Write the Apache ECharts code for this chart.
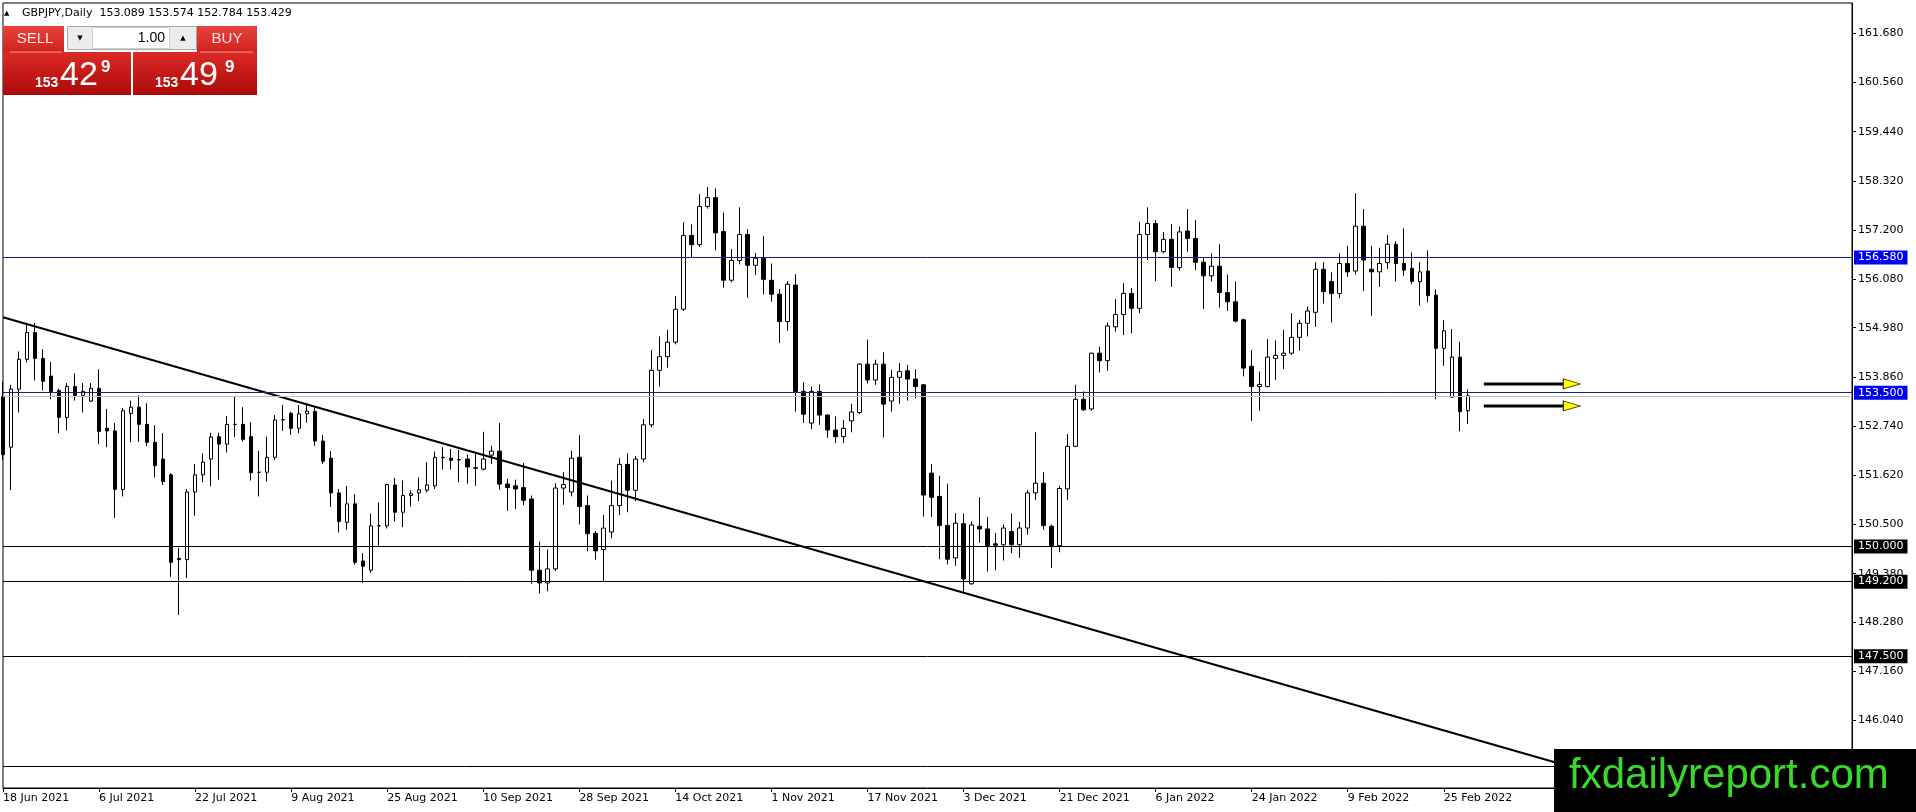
<!DOCTYPE html>
<html><head><meta charset="utf-8">
<script src="https://cdn.jsdelivr.net/npm/echarts@6/dist/echarts.min.js"></script>
<style>html,body{margin:0;padding:0;background:#fff;}#chart{width:1916px;height:812px;}</style>
</head><body><div id="chart"></div>
<script>
const symbolName = 'GBPJPY,Daily';
const dateTicks = ['18 Jun 2021','6 Jul 2021','22 Jul 2021','9 Aug 2021','25 Aug 2021','10 Sep 2021','28 Sep 2021','14 Oct 2021','1 Nov 2021','17 Nov 2021','3 Dec 2021','21 Dec 2021','6 Jan 2022','24 Jan 2022','9 Feb 2022','25 Feb 2022'];
const barsPerTick = 12;
const slotCount = 232;
const priceTicks = [161.68,160.56,159.44,158.32,157.2,156.08,154.98,153.86,152.74,151.62,150.5,149.38,148.28,147.16,146.04,144.92];
const yMin = 144.503, yMax = 162.370;

const open = [
153.41,152.26,153.58,154.26,154.87,154.28,153.88,153.55,152.94,153.64,153.44,153.31,
153.60,152.69,152.63,151.30,153.03,153.17,152.78,152.37,151.99,151.63,149.73,149.70,
151.24,151.63,151.99,152.50,152.33,152.78,152.78,152.50,151.69,151.69,152.03,152.88,
153.03,152.69,153.02,153.07,152.40,152.01,151.22,150.55,150.97,149.67,149.46,150.47,
150.47,151.40,150.78,151.16,151.22,151.28,151.38,152.03,152.01,151.98,151.99,151.79,
151.76,152.08,152.17,151.42,151.38,151.34,151.08,149.46,149.17,149.49,151.33,151.24,
152.03,150.93,150.30,149.93,150.33,150.93,151.87,151.28,151.99,152.77,154.01,154.32,
154.65,155.40,157.08,156.87,157.74,157.94,157.17,156.06,156.51,157.10,156.40,156.56,
156.06,155.74,155.12,155.95,153.53,152.81,153.53,152.99,152.65,152.50,152.86,153.05,
154.15,153.79,154.15,153.31,153.85,154.00,153.81,153.68,151.67,151.14,150.48,149.74,
150.52,149.15,150.46,150.40,150.06,150.04,150.34,150.04,150.42,151.22,151.44,150.46,
150.02,151.31,152.28,153.35,153.13,154.40,154.23,155.00,155.28,155.76,155.42,157.10,
157.35,156.71,156.99,156.35,157.18,157.01,156.47,156.16,156.38,155.78,155.57,155.16,
154.10,153.64,153.64,154.28,154.35,154.40,154.76,155.08,155.33,156.31,156.03,155.76,
156.44,156.27,157.29,156.31,156.25,156.46,156.88,156.44,156.33,156.03,156.27,155.72,
154.51,153.40,154.31,153.089];
const high = [
153.75,153.68,154.44,155.09,155.09,154.49,154.20,153.59,153.72,153.94,153.72,153.72,
154.03,153.13,152.81,153.15,153.32,153.44,153.26,152.76,152.58,151.67,149.97,151.31,
151.88,152.12,152.59,152.59,152.97,153.41,153.17,152.83,152.18,152.50,152.99,153.22,
153.07,153.22,153.26,153.17,152.54,152.17,151.31,151.38,151.19,149.85,150.75,151.00,
151.43,151.56,151.50,151.28,151.57,151.92,152.16,152.26,152.22,152.20,152.09,152.13,
152.61,152.29,152.81,151.54,151.52,151.90,151.16,150.11,149.93,151.44,151.69,152.18,
152.53,151.16,150.35,150.72,151.50,152.01,152.12,152.06,152.90,154.47,154.78,154.93,
155.70,157.38,157.33,158.02,158.18,158.15,157.60,156.77,157.72,157.22,156.68,157.07,
156.44,155.86,156.04,156.20,153.74,153.64,153.69,153.01,152.96,152.88,153.25,154.17,
154.71,154.25,154.42,154.02,154.17,154.13,154.03,153.70,151.88,151.61,151.43,150.76,
150.75,150.57,151.12,150.67,150.31,150.50,150.75,150.56,151.29,152.60,151.69,150.50,
151.38,152.56,153.68,153.53,154.41,154.55,155.10,155.63,155.99,155.88,157.39,157.72,
157.43,157.16,157.34,157.28,157.68,157.43,156.57,156.67,156.88,156.19,156.03,155.19,
154.47,153.98,154.72,154.69,154.93,155.31,155.16,155.46,156.47,156.47,156.24,156.67,
156.84,158.04,157.68,156.84,156.80,157.09,156.95,157.24,156.69,156.47,156.74,155.85,
155.15,154.95,154.66,153.574];
const low = [
151.97,151.28,153.05,154.19,153.78,153.55,153.35,152.58,152.64,153.32,153.05,153.29,
152.33,152.26,150.65,151.14,152.37,152.38,152.29,151.57,151.40,149.31,148.44,149.28,
150.70,151.46,151.37,151.52,152.14,152.49,152.39,151.50,151.14,151.48,151.97,152.63,
152.54,152.58,152.82,152.29,151.88,150.90,150.32,150.38,149.59,149.17,149.40,150.02,
150.41,150.57,150.44,150.91,151.03,151.23,151.31,151.75,151.75,151.46,151.43,151.38,
151.73,151.88,151.29,150.81,150.85,150.94,149.15,148.93,148.98,149.44,150.95,151.14,
150.50,149.89,149.70,149.20,150.19,150.71,150.78,151.03,151.92,152.71,153.64,154.07,
154.60,155.36,156.57,156.82,157.69,156.74,155.89,156.01,156.42,155.66,156.18,155.74,
155.57,154.63,154.91,153.07,152.81,152.67,152.77,152.47,152.35,152.35,152.60,153.01,
153.71,153.68,152.48,153.07,153.25,153.32,153.37,150.68,150.67,149.71,149.59,149.56,
148.96,149.13,150.09,149.43,149.46,149.68,149.85,149.74,150.27,151.06,150.38,149.51,
149.87,151.06,152.26,153.09,153.09,153.96,154.00,154.89,154.81,154.85,155.31,156.52,
156.04,156.67,155.91,156.28,156.71,156.29,155.41,156.03,155.44,155.36,155.10,153.87,
152.86,153.09,153.62,153.79,154.04,154.36,154.46,154.78,155.00,155.53,155.10,155.65,
156.14,156.19,155.81,155.25,155.91,156.32,156.03,156.16,155.97,155.48,155.56,153.35,
154.11,153.38,152.62,152.784];
const close = [
152.09,153.58,154.26,154.87,154.28,153.76,153.53,152.94,153.64,153.44,153.53,153.60,
152.62,152.63,151.30,153.09,153.17,152.78,152.37,151.84,151.48,149.64,149.70,151.24,
151.63,151.92,152.49,152.33,152.78,152.78,152.44,151.68,151.69,152.03,152.88,152.89,
152.69,153.02,153.08,152.40,151.94,151.22,150.57,150.97,149.64,149.55,150.47,150.47,
151.41,150.78,151.16,151.20,151.29,151.40,152.03,152.02,151.96,151.97,151.81,151.78,
151.99,152.17,151.42,151.34,151.31,151.05,149.46,149.17,149.49,151.33,151.41,152.01,
150.91,150.29,149.90,150.42,150.93,151.87,151.28,151.99,152.77,154.01,154.32,154.65,
155.40,157.08,156.87,157.74,157.94,157.14,156.06,156.51,157.10,156.40,156.56,156.08,
155.74,155.12,155.97,153.53,153.01,153.53,152.99,152.65,152.50,152.69,153.06,154.15,
153.79,154.15,153.24,153.85,153.98,153.81,153.64,151.17,151.12,150.48,149.71,150.53,
149.26,150.49,150.40,150.02,150.03,150.42,150.04,150.42,151.22,151.44,150.48,150.02,
151.32,152.28,153.35,153.11,154.40,154.23,155.02,155.28,155.76,155.42,157.10,157.35,
156.71,156.99,156.35,157.16,157.01,156.47,156.16,156.38,155.78,155.57,155.13,154.06,
153.64,153.69,154.31,154.35,154.40,154.76,155.08,155.36,156.31,155.80,155.76,156.44,
156.25,157.29,156.52,156.25,156.44,156.88,156.44,156.29,156.03,156.25,155.71,154.51,
154.91,154.31,153.07,153.429];

const blueLevels = [156.58, 153.5];
const blackLevels = [150.0, 149.2, 147.5, 145.0];
const trendLine = [[0, 155.216], [204, 144.559]];
const arrowLevels = [153.70, 153.20];
const arrowStart = 185, arrowEnd = 195, arrowHead = 196;
const sellQuote = ['153', '42', '9'];
const buyQuote = ['153', '49', '9'];

const chart = echarts.init(document.getElementById('chart'), null, {renderer: 'canvas'});
const categories = Array.from({length: slotCount}, (_, i) => String(i));
const ohlc = open.map((o, i) => [o, close[i], low[i], high[i]]);
const last = open.length - 1;
const bid = close[last];
const FONT = '"DejaVu Sans", Tahoma, sans-serif';

const levelLine = (v, lineColor, boxColor) => ({
  yAxis: v,
  lineStyle: {color: lineColor, width: 1, type: 'solid'},
  label: {show: true, position: 'end', distance: 2, formatter: v.toFixed(3), color: '#fff',
    backgroundColor: boxColor, padding: [1, 4, 0, 4], fontSize: 11, fontFamily: FONT, lineHeight: 13}
});

const markData = [
  [{coord: [categories[trendLine[0][0]], trendLine[0][1]], lineStyle: {color: '#000', width: 2, type: 'solid'}, label: {show: false}},
   {coord: [categories[trendLine[1][0]], trendLine[1][1]]}],
  {yAxis: bid, lineStyle: {color: '#c0c0c0', width: 1, type: 'solid'}, label: {show: false}},
  ...blueLevels.map(v => levelLine(v, '#1a1a90', '#0000f0')),
  ...blackLevels.map(v => levelLine(v, '#000', '#000'))
];

const arrowSeries = arrowLevels.map(v => ({
  type: 'line', data: [[arrowStart, v], [arrowEnd, v]], showSymbol: false, symbol: 'none',
  lineStyle: {color: '#000', width: 3}, silent: true, z: 5
}));

const redGrad = (a, b) => new echarts.graphic.LinearGradient(0, 0, 0, 1, [{offset: 0, color: a}, {offset: 1, color: b}]);
const T = (x, y, text, font, fill, align) => ({type: 'text', x, y, z: 100,
  style: {text, font, fill, textAlign: align || 'left', align: align || 'left', textVerticalAlign: 'middle', verticalAlign: 'middle'}});
const R = (x, y, w, h, fill, stroke) => ({type: 'rect', z: 100, shape: {x, y, width: w, height: h},
  style: {fill, stroke: stroke || null, lineWidth: stroke ? 1 : 0}});

const header = symbolName + '  ' + [open[last], high[last], low[last], close[last]].map(v => v.toFixed(3)).join(' ');
const NUMF = '"Liberation Sans", Arial, sans-serif';
const NARROW = '"Liberation Sans Narrow", "Liberation Sans", Arial, sans-serif';

const graphics = [
  T(4, 13, '\u25B2', '7px ' + FONT, '#000'),
  T(22, 13, header, '11px ' + FONT, '#000'),
  // trading panel
  R(3, 26, 61, 26, redGrad('#e8423c', '#d0221e')),
  R(197, 26, 60, 26, redGrad('#e8423c', '#d0221e')),
  R(3, 52, 128, 43, redGrad('#dc2a25', '#ab0a0a')),
  R(133, 52, 124, 43, redGrad('#dc2a25', '#ab0a0a')),
  {type: 'line', z: 101, shape: {x1: 10, y1: 52, x2: 62, y2: 52}, style: {stroke: '#f19a96', lineWidth: 1}},
  {type: 'line', z: 101, shape: {x1: 200, y1: 52, x2: 253, y2: 52}, style: {stroke: '#f19a96', lineWidth: 1}},
  R(67.5, 26.5, 129, 23, '#ececec', '#a8a8a8'),
  R(92.5, 27.5, 77, 21, '#ffffff', '#d0d0d0'),
  T(80, 38, '\u25BC', '7px ' + FONT, '#000', 'center'),
  T(183, 38, '\u25B2', '7px ' + FONT, '#000', 'center'),
  T(165, 38, '1.00', '14px ' + NUMF, '#000', 'right'),
  T(35, 39, 'SELL', '15px ' + NARROW, '#ffe2e2', 'center'),
  T(227, 39, 'BUY', '15px ' + NARROW, '#ffe2e2', 'center'),
  T(35, 83, sellQuote[0], 'bold 14px ' + NUMF, '#fff'),
  T(60, 76, sellQuote[1], '34px ' + NUMF, '#fff'),
  T(101, 67, sellQuote[2], 'bold 17px ' + NUMF, '#fff'),
  T(155, 83, buyQuote[0], 'bold 14px ' + NUMF, '#fff'),
  T(180, 76, buyQuote[1], '34px ' + NUMF, '#fff'),
  T(225, 67, buyQuote[2], 'bold 17px ' + NUMF, '#fff'),
  // logo
  R(1554, 749, 362, 63, '#000'),
  T(1569, 776, 'fxdailyreport.com', '42px ' + NUMF, '#3ad82c')
];

chart.setOption({
  animation: false,
  backgroundColor: '#fff',
  grid: {left: 3, right: 64, top: 3, bottom: 24, show: true, borderColor: '#000', borderWidth: 1, backgroundColor: '#fff', containLabel: false},
  xAxis: {
    type: 'category', data: categories, boundaryGap: false,
    axisLine: {show: true, lineStyle: {color: '#000'}},
    axisTick: {show: true, length: 4, lineStyle: {color: '#000'},
      interval: (i) => i % barsPerTick === 0 && i / barsPerTick < dateTicks.length},
    axisLabel: {show: true, align: 'left', margin: 5, color: '#000', fontSize: 11, fontFamily: FONT,
      interval: (i) => i % barsPerTick === 0 && i / barsPerTick < dateTicks.length,
      formatter: (v, i) => (i % barsPerTick === 0 ? (dateTicks[i / barsPerTick] || '') : '')},
    splitLine: {show: false}
  },
  yAxis: {
    type: 'value', position: 'right', min: yMin, max: yMax, scale: true,
    splitLine: {show: false},
    axisLine: {show: true, lineStyle: {color: '#000'}},
    axisTick: {show: true, length: 4, lineStyle: {color: '#000'}, customValues: priceTicks},
    axisLabel: {show: true, margin: 6, color: '#000', fontSize: 11, fontFamily: FONT,
      customValues: priceTicks, formatter: (v) => Number(v).toFixed(3)}
  },
  series: [
    {
      type: 'candlestick', data: ohlc, barWidth: 4, clip: true,
      itemStyle: {color: '#ffffff', color0: '#000000', borderColor: '#000000', borderColor0: '#000000', borderWidth: 1},
      emphasis: {disabled: true},
      markLine: {symbol: ['none', 'none'], silent: true, animation: false, data: markData}
    },
    ...arrowSeries,
    {
      type: 'scatter', data: arrowLevels.map(v => [arrowHead, v]), symbol: 'triangle',
      symbolSize: [10, 17], symbolRotate: -90, silent: true, z: 6,
      itemStyle: {color: '#ffff00', borderColor: '#3a3a00', borderWidth: 1, opacity: 1}
    }
  ],
  graphic: {elements: graphics}
});
</script></body></html>
